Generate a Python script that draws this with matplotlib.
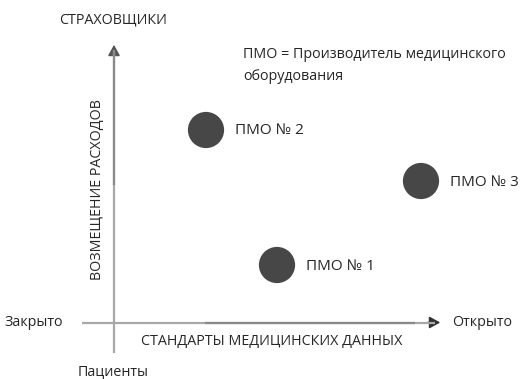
import matplotlib.pyplot as plt
from matplotlib.patches import FancyArrowPatch

plt.rcParams['font.family'] = ['Open Sans', 'DejaVu Sans']

# positions of the manufacturers (pixel-like chart coordinates)
names = ['ПМО № 1', 'ПМО № 2', 'ПМО № 3']
x_vals = [277, 206, 421]
y_vals = [265, 130, 181]

fig = plt.figure(figsize=(5.28, 3.79), dpi=100)
ax = fig.add_axes([0, 0, 1, 1])
ax.set_xlim(0, 528)
ax.set_ylim(379, 0)
ax.axis('off')

line_c = '#8a8a8a'
txt_c = '#262626'

# axes lines with arrows
ax.plot([114, 114], [353, 50], color='#a8a8a8', lw=1.6, solid_capstyle='butt')
ax.plot([114, 114], [185, 50], color=line_c, lw=1.6, solid_capstyle='butt')
ax.add_patch(FancyArrowPatch((114, 60), (114, 42), arrowstyle='-|>,head_length=4,head_width=2.2',
                             color='#555555', lw=1.2, mutation_scale=1.6))
ax.plot([82, 435], [322.5, 322.5], color='#a8a8a8', lw=1.6, solid_capstyle='butt')
ax.plot([205, 415], [322.5, 322.5], color=line_c, lw=1.6, solid_capstyle='butt')
ax.add_patch(FancyArrowPatch((425, 322.5), (443, 322.5), arrowstyle='-|>,head_length=4,head_width=2.2',
                             color='#333333', lw=1.2, mutation_scale=1.6))

ax.scatter(x_vals, y_vals, s=680, color='#474747', zorder=3, edgecolors='none')
for n, x, y in zip(names, x_vals, y_vals):
    ax.text(x + 29, y + 1, n, fontsize=11, color=txt_c, va='center', ha='left')

fs = 10.3
ax.text(113, 20, 'СТРАХОВЩИКИ', fontsize=fs, color=txt_c, ha='center', va='center')
ax.text(113, 372, 'Пациенты', fontsize=fs, color=txt_c, ha='center', va='center')
ax.text(4, 322, 'Закрыто', fontsize=fs, color=txt_c, ha='left', va='center')
ax.text(452, 322, 'Открыто', fontsize=fs, color=txt_c, ha='left', va='center')
ax.text(272, 341, 'СТАНДАРТЫ МЕДИЦИНСКИХ ДАННЫХ', fontsize=fs, color=txt_c,
        ha='center', va='center')
ax.text(97, 190, 'ВОЗМЕЩЕНИЕ РАСХОДОВ', fontsize=fs, color=txt_c, ha='center',
        va='center', rotation=90)
ax.text(243, 55, 'ПМО = Производитель медицинского', fontsize=fs, color=txt_c,
        ha='left', va='center')
ax.text(243, 76, 'оборудования', fontsize=fs, color=txt_c, ha='left', va='center')

fig.savefig('out.png', dpi=100)
